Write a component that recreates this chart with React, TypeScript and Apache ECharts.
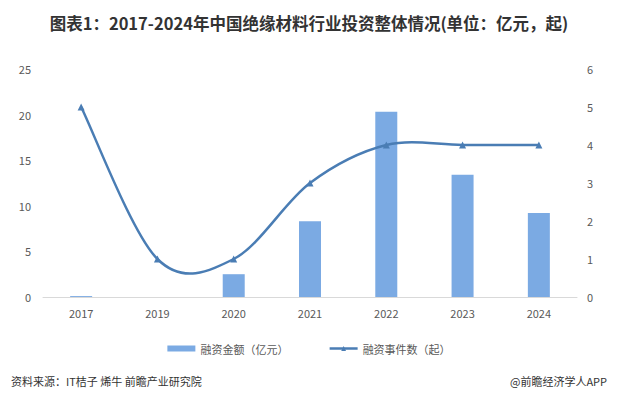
import React, { useEffect, useRef } from "react";
import * as echarts from "echarts";

const categories = ["2017", "2019", "2020", "2021", "2022", "2023", "2024"];
const amountValues = [0.1, 0, 2.5, 8.3, 20.3, 13.4, 9.2];
const eventValues = [5, 1, 1, 3, 4, 4, 4];
const leftTicks = { min: 0, max: 25, interval: 5 };
const rightTicks = { min: 0, max: 6, interval: 1 };

const LINE_COLOR = "#4A7DB4";
const BAR_COLOR = "#7BAAE3";

export default function App() {
  const ref = useRef<HTMLDivElement>(null);
  useEffect(() => {
    const chart = echarts.init(ref.current!, null, { renderer: "svg" });
    const font = "'Microsoft YaHei','Noto Sans CJK SC',sans-serif";
    chart.setOption({
      animation: false,
      backgroundColor: "#fff",
      title: [
        {
          text: "图表1：2017-2024年中国绝缘材料行业投资整体情况(单位：亿元，起)",
          left: "center",
          top: 10,
          textStyle: { fontSize: 16.5, fontWeight: "bold", color: "#333", fontFamily: font },
        },
        {
          text: "资料来源：IT桔子 烯牛 前瞻产业研究院",
          left: 6,
          top: 370,
          textStyle: { fontSize: 11, fontWeight: "normal", color: "#333", fontFamily: font },
        },
        {
          text: "@前瞻经济学人APP",
          right: 6,
          top: 370,
          textStyle: { fontSize: 11, fontWeight: "normal", color: "#333", fontFamily: font },
        },
      ],
      legend: {
        top: 338,
        left: "center",
        itemGap: 40,
        itemWidth: 28,
        itemHeight: 6,
        textStyle: { fontSize: 11, color: "#595959", fontFamily: font },
        data: [
          { name: "融资金额（亿元）", icon: "rect" },
          { name: "融资事件数（起）", lineStyle: { color: LINE_COLOR, width: 2.5, opacity: 1 } },
        ],
      },
      grid: { left: 43, right: 41, top: 69, bottom: 101 },
      xAxis: {
        type: "category",
        data: categories,
        axisLine: { lineStyle: { color: "#d9d9d9" } },
        axisTick: { show: false },
        axisLabel: { color: "#595959", fontSize: 11, margin: 10, fontFamily: font },
      },
      yAxis: [
        {
          type: "value",
          min: leftTicks.min,
          max: leftTicks.max,
          interval: leftTicks.interval,
          splitLine: { show: false },
          axisLine: { show: false },
          axisTick: { show: false },
          axisLabel: { color: "#595959", fontSize: 11, margin: 12, fontFamily: font },
        },
        {
          type: "value",
          min: rightTicks.min,
          max: rightTicks.max,
          interval: rightTicks.interval,
          splitLine: { show: false },
          axisLine: { show: false },
          axisTick: { show: false },
          axisLabel: { color: "#595959", fontSize: 11, margin: 10, fontFamily: font },
        },
      ],
      series: [
        {
          name: "融资金额（亿元）",
          type: "bar",
          data: amountValues,
          barWidth: 22,
          itemStyle: { color: BAR_COLOR },
        },
        {
          name: "融资事件曲线",
          type: "custom",
          yAxisIndex: 1,
          data: eventValues.map((v, i) => [i, v]),
          silent: true,
          z: 3,
          renderItem: (params: any, api: any) => {
            if (params.dataIndex !== 0) return null;
            const pts = eventValues.map((v, i) => api.coord([i, v]));
            const n = pts.length;
            let d = `M${pts[0][0]},${pts[0][1]}`;
            for (let i = 0; i < n - 1; i++) {
              const p0 = pts[Math.max(0, i - 1)];
              const p1 = pts[i];
              const p2 = pts[i + 1];
              const p3 = pts[Math.min(n - 1, i + 2)];
              const c1x = p1[0] + (p2[0] - p0[0]) / 6;
              const c1y = p1[1] + (p2[1] - p0[1]) / 6;
              const c2x = p2[0] - (p3[0] - p1[0]) / 6;
              const c2y = p2[1] - (p3[1] - p1[1]) / 6;
              d += ` C${c1x},${c1y} ${c2x},${c2y} ${p2[0]},${p2[1]}`;
            }
            return {
              type: "path",
              shape: { pathData: d },
              style: { stroke: LINE_COLOR, fill: "none", lineWidth: 2.5 },
            };
          },
        },
        {
          name: "融资事件数（起）",
          type: "line",
          yAxisIndex: 1,
          data: eventValues,
          symbol: "triangle",
          symbolSize: 7,
          z: 4,
          lineStyle: { color: LINE_COLOR, width: 2.5, opacity: 0 },
          itemStyle: { color: LINE_COLOR },
        },
      ],
    });
    return () => chart.dispose();
  }, []);
  return <div ref={ref} style={{ width: 618, height: 398, position: "absolute", left: 0, top: 0 }} />;
}
